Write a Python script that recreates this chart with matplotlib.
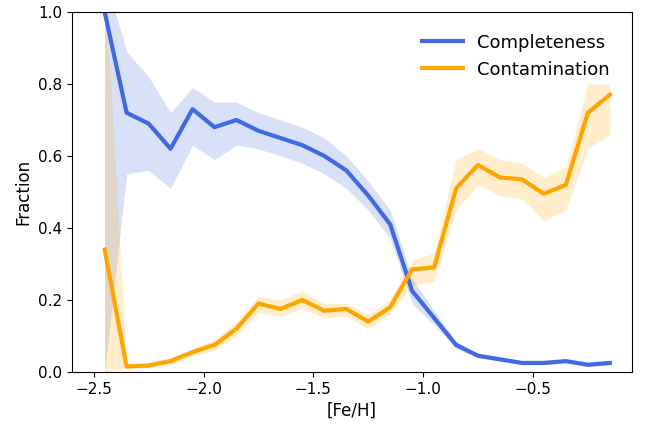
import matplotlib
matplotlib.use("Agg")
import matplotlib.pyplot as plt
import numpy as np

feh = np.round(np.arange(-2.45, -0.1, 0.1), 2)

completeness = [1.0, 0.72, 0.69, 0.62, 0.73, 0.68, 0.70, 0.67, 0.65, 0.63, 0.60, 0.56,
                0.49, 0.41, 0.225, 0.15, 0.075, 0.045, 0.035, 0.025, 0.025, 0.03, 0.02, 0.025]
comp_hi = [1.1, 0.89, 0.82, 0.72, 0.79, 0.75, 0.75, 0.72, 0.70, 0.68, 0.65, 0.60,
           0.53, 0.45, 0.26, 0.17, 0.085, 0.05, 0.04, 0.03, 0.03, 0.035, 0.025, 0.03]
comp_lo = [0.0, 0.55, 0.56, 0.51, 0.63, 0.59, 0.63, 0.62, 0.60, 0.58, 0.55, 0.51,
           0.45, 0.37, 0.19, 0.13, 0.065, 0.04, 0.03, 0.02, 0.02, 0.025, 0.015, 0.02]

contamination = [0.34, 0.015, 0.018, 0.03, 0.055, 0.075, 0.12, 0.19, 0.175, 0.2, 0.17, 0.175,
                 0.14, 0.18, 0.285, 0.29, 0.51, 0.575, 0.54, 0.535, 0.495, 0.52, 0.72, 0.77]
cont_hi = [1.1, 0.02, 0.025, 0.04, 0.065, 0.09, 0.14, 0.21, 0.20, 0.225, 0.19, 0.19,
           0.16, 0.20, 0.31, 0.33, 0.59, 0.62, 0.59, 0.58, 0.54, 0.57, 0.80, 0.80]
cont_lo = [0.0, 0.01, 0.012, 0.02, 0.045, 0.06, 0.10, 0.165, 0.155, 0.175, 0.15, 0.155,
           0.12, 0.16, 0.24, 0.25, 0.45, 0.52, 0.49, 0.48, 0.42, 0.45, 0.62, 0.66]

fig = plt.figure(figsize=(6.52, 4.28), dpi=100)
ax = fig.add_axes([0.11, 0.131, 0.859, 0.841])

ax.fill_between(feh, comp_lo, comp_hi, color='royalblue', alpha=0.2, lw=0)
ax.fill_between(feh, cont_lo, cont_hi, color='orange', alpha=0.2, lw=0)
ax.plot(feh, completeness, color='royalblue', lw=3, label='Completeness')
ax.plot(feh, contamination, color='orange', lw=3, label='Contamination')

ax.set_xlim(-2.6, -0.05)
ax.set_ylim(0, 1.0)
ax.set_xticks([-2.5, -2.0, -1.5, -1.0, -0.5])
ax.set_xlabel("[Fe/H]", fontsize=12)
ax.set_ylabel("Fraction", fontsize=12)
ax.tick_params(labelsize=11)
ax.legend(frameon=False, fontsize=13, loc='upper right', handlelength=2.3,
          borderaxespad=0.8)

fig.savefig("out.png", dpi=100)
